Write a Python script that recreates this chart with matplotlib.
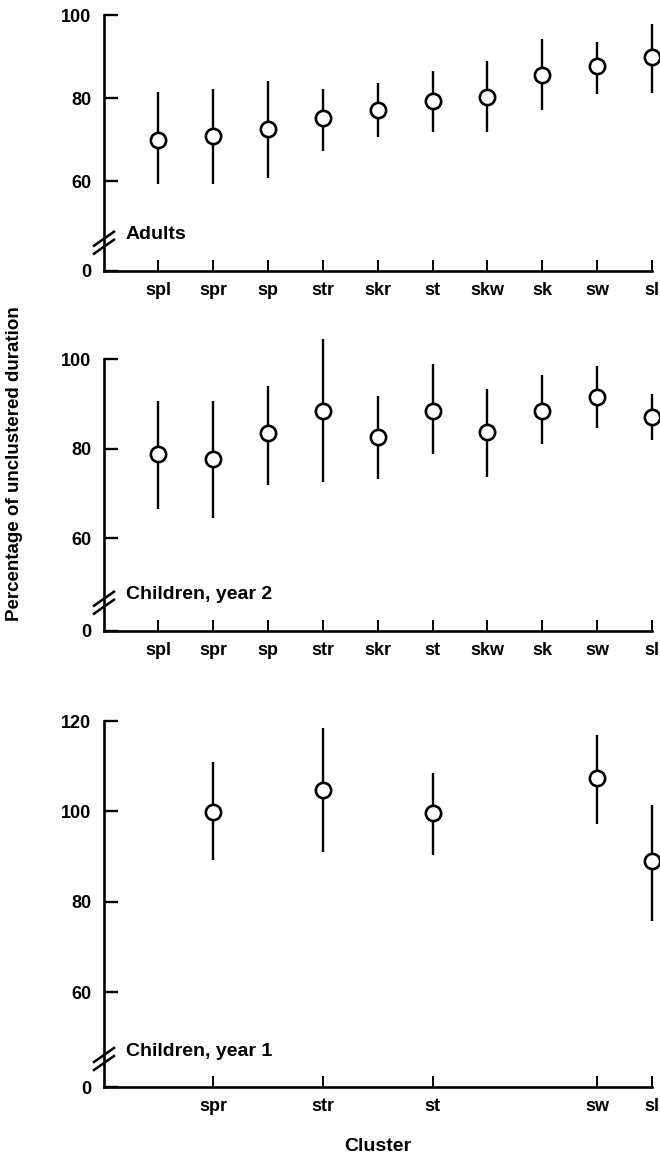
import numpy as np
import matplotlib.pyplot as plt

plt.rcParams['font.family'] = ['Liberation Sans', 'DejaVu Sans']
plt.rcParams['font.weight'] = 'bold'

clusters = ['spl', 'spr', 'sp', 'str', 'skr', 'st', 'skw', 'sk', 'sw', 'sl']

# Adults
adult_mean = [70.0, 70.8, 72.6, 75.2, 77.0, 79.4, 80.2, 85.6, 87.7, 89.8]
adult_low = [59.3, 59.3, 60.8, 67.3, 70.6, 71.7, 71.7, 77.2, 81.0, 81.3]
adult_high = [81.4, 82.2, 84.0, 82.1, 83.5, 86.6, 88.9, 94.3, 93.5, 97.9]

# Children, year 2
child2_mean = [78.8, 77.7, 83.6, 88.5, 82.7, 88.5, 83.7, 88.5, 91.5, 87.1]
child2_low = [66.6, 64.5, 72.0, 72.6, 73.3, 78.8, 73.7, 81.0, 84.6, 81.9]
child2_high = [90.6, 90.6, 94.1, 104.5, 91.7, 98.9, 93.3, 96.5, 98.6, 92.2]

# Children, year 1 (only five clusters)
child1_clusters = ['spr', 'str', 'st', 'sw', 'sl']
child1_mean = [99.9, 104.8, 99.6, 107.4, 89.0]
child1_low = [89.2, 90.9, 90.4, 97.2, 75.8]
child1_high = [111.0, 118.5, 108.5, 117.0, 101.5]


def draw_panel(ax, cats, mean, low, high, ylim, yticks, label):
    """Open circles with vertical bars on a broken y axis (0 at the bottom)."""
    x = [clusters.index(c) for c in cats]
    ax.vlines(x, low, high, color='black', lw=1.7, zorder=2, clip_on=False)
    ax.plot(x, mean, 'o', ms=11, mfc='white', mec='black', mew=1.9,
            zorder=3, clip_on=False)

    ax.set_xlim(-0.99, 9)
    ax.set_ylim(*ylim)
    for side in ['top', 'right']:
        ax.spines[side].set_visible(False)
    for side in ['left', 'bottom']:
        ax.spines[side].set_linewidth(1.9)

    # bottom of the axis stands for 0
    ax.set_yticks([ylim[0]] + yticks)
    ax.set_yticklabels(['0'] + [str(t) for t in yticks])
    ax.set_xticks(x)
    ax.set_xticklabels(cats)
    ax.tick_params(axis='y', direction='in', length=10, width=1.7, pad=9,
                   labelsize=13)
    ax.tick_params(axis='x', direction='in', length=8, width=1.4, pad=8,
                   labelsize=13)

    # break marks on the y axis
    ppu = ax.get_window_extent().height / (ylim[1] - ylim[0])
    brk = ylim[0] + 28 / ppu
    dx = 10 / ax.get_window_extent().width
    dy = 7 / ppu
    sep = 4 / ppu
    trans = ax.get_yaxis_transform()
    for s in (-sep, sep):
        ax.plot([-dx, dx], [brk + s - dy, brk + s + dy], color='black',
                lw=1.8, transform=trans, clip_on=False, zorder=4)

    ax.text(0.040, ylim[0] + 36 / ppu, label, transform=trans,
            fontsize=14, va='center', ha='left')


fig = plt.figure(figsize=(6.6, 11.58), dpi=100)
W, H = 660, 1158
left, width = 104 / W, 548 / W

ax1 = fig.add_axes([left, 1 - 270.7 / H, width, 255.7 / H])
ax2 = fig.add_axes([left, 1 - 630.7 / H, width, 271.4 / H])
ax3 = fig.add_axes([left, 1 - 1087 / H, width, 366 / H])

draw_panel(ax1, clusters, adult_mean, adult_low, adult_high,
           (38.4, 100), [60, 80, 100], 'Adults')
draw_panel(ax2, clusters, child2_mean, child2_low, child2_high,
           (39.4, 100), [60, 80, 100], 'Children, year 2')
draw_panel(ax3, child1_clusters, child1_mean, child1_low, child1_high,
           (39, 120), [60, 80, 100, 120], 'Children, year 1')

fig.text(0.022, 0.6, 'Percentage of unclustered duration', rotation=90,
         ha='center', va='center', fontsize=13.5)
fig.text(0.573, 0.0095, 'Cluster', ha='center', va='center', fontsize=14)

fig.savefig('out.png', dpi=100)
